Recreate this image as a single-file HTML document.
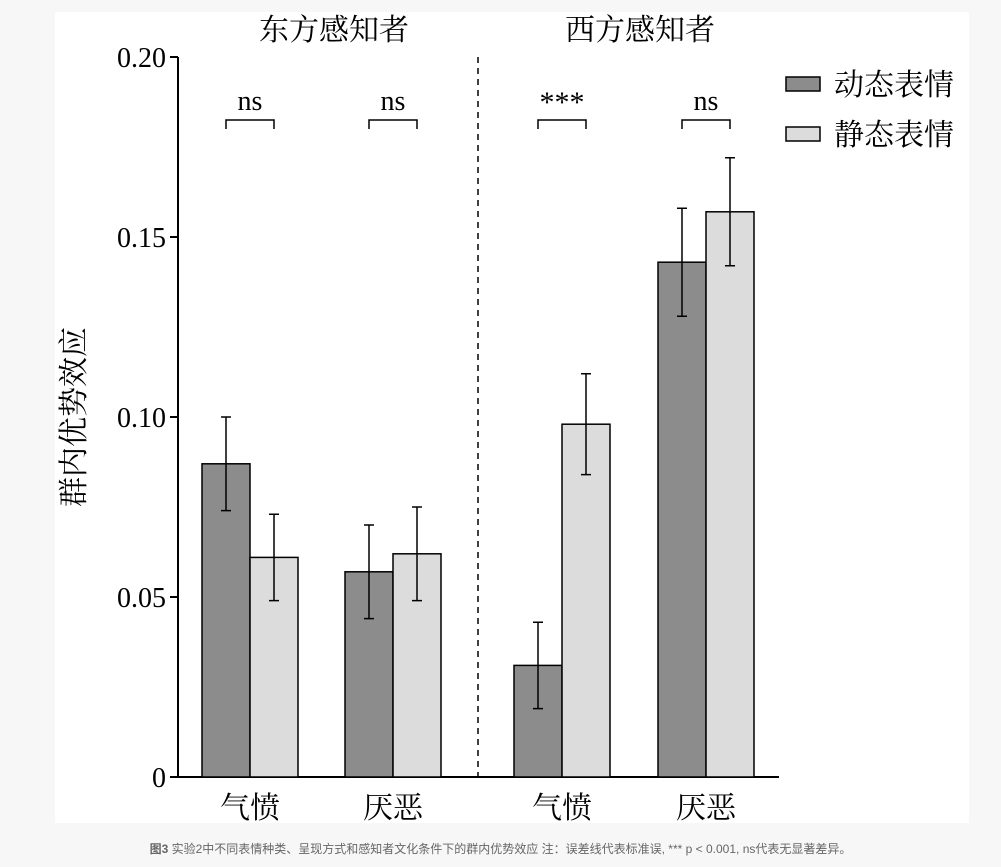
<!DOCTYPE html>
<html><head><meta charset="utf-8"><style>
body{margin:0;width:1001px;height:867px;background:#f7f7f7;overflow:hidden;font-family:"Liberation Serif","Noto Serif CJK SC",serif}
#card{position:absolute;left:55px;top:12px;width:914px;height:811px;background:#fff}
#cap{position:absolute;left:0;width:1001px;top:840px;text-align:center;font:12px "Liberation Sans","Noto Sans CJK SC",sans-serif;color:#666}
svg{position:absolute;left:0;top:0}
</style></head><body>
<div id="card"></div>
<svg id="chart" width="1001" height="867"></svg>
<div id="cap"><b>图3</b> 实验2中不同表情种类、呈现方式和感知者文化条件下的群内优势效应 注：误差线代表标准误, *** p &lt; 0.001, ns代表无显著差异。</div>
<script>
const categories=["气愤","厌恶","气愤","厌恶"];
const groups=["东方感知者","西方感知者"];
const dynamicVals=[0.087,0.057,0.031,0.143];
const staticVals=[0.061,0.062,0.098,0.157];
const dynamicErr=[0.013,0.013,0.012,0.015];
const staticErr=[0.012,0.013,0.014,0.015];
const sigLabels=["ns","ns","***","ns"];
const yTicks=[0,0.05,0.10,0.15,0.20];
const yTickLabels=["0","0.05","0.10","0.15","0.20"];
const NS="http://www.w3.org/2000/svg";
const svg=document.getElementById('chart');
const y=v=>777-v*3600;
const groupX=[202,345,514,658];
const bw=48;
function mk(t,a,txt){const e=document.createElementNS(NS,t);for(const k in a)e.setAttribute(k,a[k]);if(txt!==undefined)e.textContent=txt;svg.appendChild(e);return e;}
const ax=mk('line',{x1:178,y1:57,x2:178,y2:777,stroke:'#000','stroke-width':2});

const xa=mk('line',{x1:177,y1:777,x2:779,y2:777,stroke:'#000','stroke-width':2});

yTicks.forEach((t,i)=>{
 const l=mk('line',{x1:170,x2:178,y1:y(t),y2:y(t),stroke:'#000','stroke-width':2});
 
 const tx=mk('text',{x:166,y:y(t)+10,'text-anchor':'end','font-size':28},yTickLabels[i]);
 
});
const yt=mk('text',{transform:'translate(84,417) rotate(-90)','text-anchor':'middle','font-size':30},'群内优势效应');

const dv=mk('line',{x1:478,x2:478,y1:57,y2:777,stroke:'#000','stroke-width':1.5,'stroke-dasharray':'6,5'});

[[334,groups[0]],[640,groups[1]]].forEach(([x,t])=>{
 const e=mk('text',{x:x,y:40,'text-anchor':'middle','font-size':30},t);
 
});
function bar(x,v,err,fill,name){
 const r=mk('rect',{x:x,y:y(v),width:bw,height:777-y(v),fill:fill,stroke:'#000','stroke-width':1.5});
 
 const cx=x+bw/2;
 const e=mk('path',{d:`M${cx},${y(v+err)}V${y(v-err)}M${cx-5},${y(v+err)}H${cx+5}M${cx-5},${y(v-err)}H${cx+5}`,stroke:'#000','stroke-width':1.5,fill:'none'});
 
}
categories.forEach((c,i)=>{
 const gx=groupX[i];
 bar(gx,dynamicVals[i],dynamicErr[i],'#8c8c8c','bar-dynamic');
 bar(gx+bw,staticVals[i],staticErr[i],'#dcdcdc','bar-static');
 const cl=mk('text',{x:gx+bw,y:818,'text-anchor':'middle','font-size':30},c);
 
 const br=mk('path',{d:`M${gx+24},129V120H${gx+72}V129`,stroke:'#000','stroke-width':1.5,fill:'none'});
 
 const s=mk('text',{x:gx+bw,y:sigLabels[i]==='***'?112:110,'text-anchor':'middle','font-size':sigLabels[i]==='***'?30:28},sigLabels[i]);
 
});
[[77,'#8c8c8c','动态表情'],[127,'#dcdcdc','静态表情']].forEach(([yy,f,t])=>{
 const r=mk('rect',{x:786,y:yy,width:34,height:14,fill:f,stroke:'#000','stroke-width':1.5});
 
 const tx=mk('text',{x:834,y:yy+18,'font-size':30},t);
 
});
</script>
</body></html>
